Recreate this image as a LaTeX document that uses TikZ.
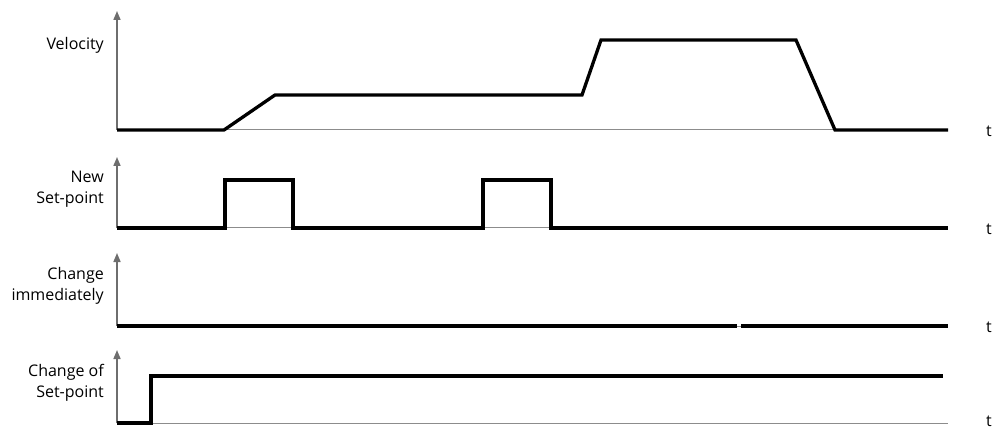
\documentclass[tikz,border=0pt]{standalone}
\usepackage{fontspec}
\setmainfont{Open Sans}
\usepackage{tikz}
\usetikzlibrary{arrows.meta, positioning}
\definecolor{axisgray}{HTML}{6E6E6E}
\definecolor{basegray}{HTML}{8C8C8C}

\begin{document}
\begin{tikzpicture}[x=1pt,y=-1pt,font=\fontsize{16}{21}\selectfont,
    axis/.style={-{Triangle[length=9pt,width=7pt]},axisgray,line width=1.6pt},
    base/.style={basegray,line width=1pt},
    signal/.style={line width=3.3pt,black,line join=miter},
    lbl/.style={anchor=east,align=right,inner sep=0pt},
    tlbl/.style={inner sep=0pt}]
      \useasboundingbox (0,0) rectangle (995,430);
      % axes and time labels
      \foreach \yb/\yt/\ty/\n in {130/11/131/1,228/157/229/2,326/253/327/3,423/350/421/4}{
        \draw[base] (117,\yb) -- (948,\yb);
        \draw[axis] (117,\yb) -- (117,\yt);
        \node[tlbl] (t\n) at (989,\ty) {t};
      }
      \node[lbl] (vel) at (104,45) {Velocity};
      \node[lbl] (newsp) at (104,189) {New\\Set-point};
      \node[lbl] (chimm) at (104,286) {Change\\immediately};
      \node[lbl] (chsp) at (104,383) {Change of\\Set-point};
      % velocity
      \draw[signal] (117,130) -- (224,130) -- (275,95) -- (582,95) -- (601,40)
        -- (796,40) -- (835,130) -- (948,130);
      % new set-point
      \draw[signal] (117,228) -- (225,228) -- (225,180) -- (293,180) -- (293,228)
        -- (483,228) -- (483,180) -- (551,180) -- (551,228) -- (948,228);
      % change immediately
      \draw[signal] (117,326) -- (737,326);
      \draw[signal] (741,326) -- (948,326);
      % change of set-point
      \draw[signal] (117,423) -- (151,423) -- (151,376) -- (943,376);
    \end{tikzpicture}
\end{document}
